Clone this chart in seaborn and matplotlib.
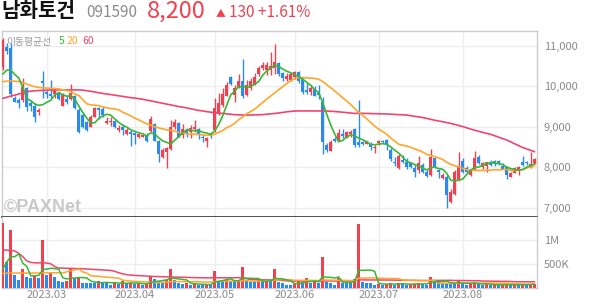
import numpy as np
import pandas as pd
import matplotlib
matplotlib.use("Agg")
import matplotlib.pyplot as plt
import seaborn as sns

# ---------------- data ----------------
stock_name = "남화토건"
stock_code = "091590"
last_price = "8,200"
change_arrow = "▲"
change_text = "130 +1.61%"
ma_title = "이동평균선"
ma_periods = ["5", "20", "60"]

start_date = "2023-02-14"
end_date = "2023-08-28"
holidays = ["2023-03-01", "2023-05-01", "2023-05-05", "2023-05-29",
            "2023-06-06", "2023-08-15"]

opens = [10480, 10960, 10950, 9700, 9660, 9660, 9950, 9580, 9520, 9360,
         10120, 9870, 9800, 9800, 9830, 9520, 9690, 9690, 9750, 9420,
         9290, 9110, 9000, 9250, 9470, 9440, 9100, 9110, 9140, 8920,
         9000, 8810, 8880, 8840, 8760, 8760, 8800, 8900, 9060, 8650,
         8260, 8390, 8450, 9000, 9090, 8800, 8930, 8880, 8950, 8940,
         8760, 8650, 8830, 8920, 9310, 9540, 9770, 10220, 9790, 9970,
         10120, 9790, 9950, 10050, 10300, 10450, 10410, 10410, 10450, 10570,
         10320, 10180, 10160, 10220, 10350, 10180, 9910, 9850, 9940, 9830,
         9620, 8550, 8400, 8700, 8650, 8830, 8750, 8810, 8940, 8630,
         8630, 8580, 8570, 8470, 8590, 8660, 8680, 8430, 8140, 7980,
         8180, 8140, 8100, 7990, 7930, 8060, 7890, 7800, 8220, 7930,
         7740, 7770, 7150, 7330, 7680, 8150, 7990, 7810, 7930, 8260,
         8010, 8020, 8120, 8150, 8150, 8040, 8010, 7770, 7870, 7930,
         8120, 8140, 8010, 8100]
highs = [11180, 11060, 11060, 9760, 9700, 10200, 9990, 9660, 9560, 9460,
         10380, 9910, 10160, 9950, 9870, 9840, 9750, 10050, 9790, 9460,
         9330, 9140, 9290, 9500, 9500, 9520, 9250, 9250, 9160, 9040,
         9060, 8960, 8920, 8880, 8840, 8830, 8840, 9270, 9090, 8680,
         8470, 8510, 9170, 9190, 9110, 9070, 8960, 9040, 9170, 8980,
         8800, 8750, 8860, 9700, 9830, 9950, 10110, 10250, 10030, 10300,
         10680, 10160, 10210, 10320, 10490, 10610, 10610, 10840, 11040, 10610,
         10360, 10320, 10360, 10380, 10370, 10210, 10070, 10030, 10000, 10030,
         9740, 8600, 8680, 8760, 8950, 8950, 8890, 8920, 8960, 9660,
         8660, 8660, 8630, 8550, 8680, 8680, 8690, 8480, 8260, 8340,
         8300, 8220, 8140, 8050, 8290, 8100, 7950, 8450, 8260, 7970,
         7850, 7810, 7460, 7930, 8370, 8220, 8020, 7970, 8400, 8300,
         8140, 8140, 8180, 8180, 8180, 8100, 8010, 7890, 8010, 8020,
         8280, 8160, 8370, 8240]
lows = [10400, 10800, 9730, 9600, 9470, 9620, 9400, 9390, 9110, 9300,
        9720, 9700, 9700, 9700, 9660, 9520, 9560, 9660, 9430, 8840,
        8980, 8900, 8990, 9230, 9200, 9250, 9060, 9020, 8980, 8880,
        8800, 8800, 8520, 8580, 8720, 8740, 8630, 8860, 8650, 8140,
        8240, 7990, 8430, 8950, 8740, 8730, 8750, 8730, 8880, 8700,
        8620, 8510, 8720, 8880, 9290, 9500, 9750, 10030, 9610, 9950,
        9700, 9750, 9910, 10030, 10250, 10410, 10280, 10280, 10300, 10250,
        10120, 10140, 10120, 10190, 10080, 9810, 9810, 9790, 9750, 9680,
        8340, 8380, 8400, 8620, 8650, 8720, 8720, 8760, 8500, 8500,
        8560, 8570, 8430, 8350, 8560, 8600, 8430, 8150, 8040, 7960,
        8100, 7970, 7980, 7770, 7870, 7850, 7760, 7790, 7980, 7740,
        7720, 6990, 7130, 7310, 7670, 7870, 7870, 7790, 7910, 8070,
        7970, 7890, 8030, 8030, 8060, 7960, 7720, 7770, 7850, 7810,
        8040, 8060, 7980, 8080]
closes = [11140, 10880, 9810, 9620, 9580, 9990, 9500, 9520, 9230, 9410,
          10070, 9800, 9750, 9910, 9690, 9800, 9620, 9830, 9460, 8860,
          9000, 8920, 9250, 9460, 9410, 9290, 9140, 9140, 9000, 8980,
          8920, 8920, 8810, 8800, 8810, 8800, 8650, 9190, 8650, 8340,
          8430, 8470, 9000, 9110, 8760, 8940, 8810, 8980, 9000, 8810,
          8720, 8730, 8790, 9470, 9580, 9800, 10030, 10050, 9950, 10130,
          9750, 10020, 10130, 10240, 10450, 10530, 10530, 10490, 10610, 10300,
          10200, 10260, 10300, 10350, 10120, 9850, 9870, 9950, 9770, 9790,
          8620, 8430, 8620, 8650, 8840, 8780, 8860, 8860, 8550, 8560,
          8570, 8630, 8510, 8510, 8650, 8620, 8550, 8200, 8100, 8290,
          8140, 8010, 8010, 7890, 8100, 7890, 7790, 8260, 8010, 7890,
          7810, 7310, 7400, 7890, 8040, 7890, 7890, 7930, 8220, 8100,
          8100, 8120, 8050, 8110, 8090, 7970, 7820, 7850, 7990, 8010,
          8050, 8100, 8070, 8200]
volumes = [1370000, 545000, 1210000, 264000, 158000, 384000, 215000, 205000, 264000, 205000,
           1000000, 264000, 300000, 220000, 137000, 110000, 130000, 418000, 190000, 205000,
           100000, 95000, 90000, 85000, 130000, 120000, 110000, 60000, 95000, 75000,
           130000, 85000, 95000, 75000, 85000, 60000, 70000, 235000, 170000, 140000,
           120000, 150000, 400000, 150000, 85000, 75000, 85000, 55000, 85000, 60000,
           45000, 75000, 45000, 342000, 140000, 125000, 170000, 140000, 125000, 150000,
           430000, 140000, 125000, 110000, 150000, 125000, 160000, 150000, 380000, 120000,
           100000, 60000, 45000, 75000, 150000, 120000, 190000, 100000, 120000, 85000,
           650000, 120000, 100000, 50000, 190000, 100000, 95000, 85000, 180000, 1340000,
           120000, 100000, 95000, 55000, 70000, 60000, 75000, 95000, 60000, 100000,
           65000, 55000, 70000, 80000, 100000, 75000, 60000, 228000, 130000, 115000,
           100000, 95000, 80000, 70000, 150000, 90000, 60000, 70000, 120000, 70000,
           55000, 65000, 50000, 60000, 50000, 60000, 70000, 50000, 60000, 55000,
           65000, 60000, 75000, 80000]
# moving-average values before enough visible history exists
ma5_head = [10300, 10400, 10400, 10290]
ma20_head = [10117, 10125, 10130, 10125, 10117, 10090, 10055, 10018, 9990, 9970,
             9960, 9955, 9950, 9945, 9935, 9915, 9895, 9870, 9810]
ma60 = [9700, 9730, 9760, 9780, 9810, 9840, 9865, 9880, 9890, 9895,
        9900, 9905, 9908, 9910, 9910, 9912, 9912, 9912, 9910, 9910,
        9905, 9890, 9875, 9860, 9840, 9825, 9810, 9795, 9780, 9765,
        9750, 9735, 9720, 9710, 9695, 9680, 9660, 9640, 9620, 9600,
        9580, 9560, 9540, 9520, 9500, 9485, 9465, 9445, 9425, 9405,
        9390, 9375, 9360, 9350, 9340, 9330, 9320, 9310, 9300, 9295,
        9290, 9290, 9290, 9295, 9298, 9300, 9310, 9320, 9330, 9340,
        9355, 9370, 9380, 9390, 9392, 9392, 9392, 9390, 9390, 9390,
        9390, 9390, 9385, 9378, 9370, 9360, 9350, 9340, 9330, 9335,
        9332, 9330, 9328, 9325, 9322, 9320, 9316, 9310, 9305, 9300,
        9295, 9290, 9275, 9260, 9245, 9228, 9208, 9185, 9162, 9144,
        9125, 9105, 9082, 9060, 9033, 9005, 8975, 8945, 8915, 8888,
        8862, 8838, 8815, 8780, 8745, 8710, 8674, 8628, 8582, 8536,
        8490, 8455, 8420, 8385]
vma5_head = [390000, 540000, 650000, 650000]
vma20_head = [300000, 300000, 305000, 305000, 305000, 305000, 305000, 305000, 305000, 305000,
              310000, 310000, 310000, 310000, 310000, 310000, 330000, 355000, 370000]
vma60_head = [790000, 790000, 785000, 770000, 720000, 650000, 560000, 530000, 520000, 520000,
              520000, 515000, 500000, 440000, 410000, 410000, 405000, 405000, 400000, 400000,
              395000, 390000, 385000, 380000, 375000, 370000, 365000, 360000, 340000, 310000,
              290000, 270000, 260000, 255000, 250000, 245000, 240000, 235000, 232000, 230000,
              228000, 225000, 222000, 220000, 218000, 215000, 212000, 210000, 208000, 206000,
              205000, 205000, 205000, 205000, 205000, 205000, 205000, 205000, 205000]
price_ticks = [7000, 8000, 9000, 10000, 11000]
volume_ticks = [500000, 1000000]
volume_tick_labels = ["500K", "1M"]

# ---------------- frame ----------------
dates = pd.bdate_range(start_date, end_date)
dates = dates[~dates.isin(pd.to_datetime(holidays))]
df = pd.DataFrame({"date": dates, "open": opens, "high": highs, "low": lows,
                   "close": closes, "volume": volumes, "ma60": ma60})
df["x"] = np.arange(len(df))


def moving(series, n, head):
    m = series.rolling(n).mean()
    m.iloc[:len(head)] = head
    return m


df["ma5"] = moving(df["close"], 5, ma5_head)
df["ma20"] = moving(df["close"], 20, ma20_head)
df["vma5"] = moving(df["volume"], 5, vma5_head)
df["vma20"] = moving(df["volume"], 20, vma20_head)
df["vma60"] = moving(df["volume"], 60, vma60_head)

months = df.groupby(df["date"].dt.to_period("M"))["x"].first().iloc[1:]
month_pos = months.values
month_lab = [p.strftime("%Y.%m") for p in months.index]

UP = "#f2404f"
DOWN = "#2a8af0"
C5 = "#37b837"
C20 = "#ffa62b"
C60 = "#f2456c"
GRID = "#eeeeee"
TXT = "#8a8a8a"

sns.set_style("white")
plt.rcParams["font.family"] = ["Noto Sans CJK KR", "DejaVu Sans"]

W, H = 594, 304
fig = plt.figure(figsize=(W / 100, H / 100), dpi=100)
L, R = 2, 537
ax = fig.add_axes([L / W, (H - 217) / H, (R - L) / W, (217 - 31) / H])
axv = fig.add_axes([L / W, (H - 287.5) / H, (R - L) / W, (287.5 - 217) / H], sharex=ax)

up = df["close"] >= df["open"]
cols = np.where(up, UP, DOWN)
body_lo = np.minimum(df["open"], df["close"])
body_h = np.maximum((df["close"] - df["open"]).abs(), 20)
ax.vlines(df["x"], df["low"], df["high"], colors=cols, lw=1.0, zorder=3)
ax.bar(df["x"], body_h, bottom=body_lo, width=0.78, color=cols, lw=0, zorder=4)

sns.lineplot(data=df, x="x", y="ma60", ax=ax, color=C60, lw=1.2, zorder=5, legend=False)
sns.lineplot(data=df, x="x", y="ma20", ax=ax, color=C20, lw=1.2, zorder=5, legend=False)
sns.lineplot(data=df, x="x", y="ma5", ax=ax, color=C5, lw=1.2, zorder=6, legend=False)

vup = df["volume"].diff().fillna(1) > 0
vcols = np.where(vup, UP, DOWN)
axv.bar(df["x"], df["volume"], width=0.78, color=vcols, lw=0, zorder=3)
sns.lineplot(data=df, x="x", y="vma60", ax=axv, color=C60, lw=1.1, zorder=5, legend=False)
sns.lineplot(data=df, x="x", y="vma20", ax=axv, color=C20, lw=1.1, zorder=5, legend=False)
sns.lineplot(data=df, x="x", y="vma5", ax=axv, color=C5, lw=1.1, zorder=6, legend=False)

ax.set_xlim(-0.2, 133.6)
ax.set_ylim(6773, 11365)
axv.set_ylim(0, 1.487e6)

for a in (ax, axv):
    a.set_xlabel("")
    a.set_ylabel("")
    a.set_axisbelow(True)
    a.set_xticks(month_pos)
    a.grid(True, color=GRID, lw=1)
    a.yaxis.tick_right()
    a.tick_params(axis="both", length=0, labelsize=8, labelcolor=TXT)
    for s in ("left", "right", "top", "bottom"):
        a.spines[s].set_color("#cccccc")
        a.spines[s].set_linewidth(1)

ax.set_yticks(price_ticks)
ax.set_yticklabels([f"{v:,}" for v in price_ticks])
ax.tick_params(axis="y", pad=5)
ax.tick_params(axis="x", labelbottom=False)
ax.spines["bottom"].set_color("#333333")
ax.spines["bottom"].set_linewidth(1.2)
axv.spines["top"].set_visible(False)
axv.set_yticks(volume_ticks)
axv.set_yticklabels(volume_tick_labels)
axv.tick_params(axis="y", pad=5)
axv.set_xticks(month_pos)
axv.set_xticklabels(month_lab)
axv.tick_params(axis="x", pad=1.5)


def px(x, y):
    return x / W, 1 - y / H


fig.text(*px(1, 17), stock_name, fontsize=14.5, fontweight="bold", color="#111111", va="baseline")
fig.text(*px(86, 17), stock_code, fontsize=11, color="#8c8c8c", va="baseline")
fig.text(*px(147, 17.5), last_price, fontsize=17, color=UP, va="baseline")
fig.text(*px(216, 16), change_arrow, fontsize=7, color=UP, va="baseline")
fig.text(*px(229, 17), change_text, fontsize=11, color=UP, va="baseline")

fig.text(*px(6, 44.5), ma_title, fontsize=7, color="#999999", va="baseline")
xs = [59, 67, 82]
for s, c, xx in zip(ma_periods, [C5, C20, C60], xs):
    fig.text(*px(xx, 44.5), s, fontsize=7.5, color=c, va="baseline")

fig.text(*px(4, 211.5), "©PAXNet", fontsize=13, fontweight="bold", color="#c9c9c9",
         va="baseline", family=["Liberation Sans", "DejaVu Sans"])

fig.savefig("out.png", dpi=100)
